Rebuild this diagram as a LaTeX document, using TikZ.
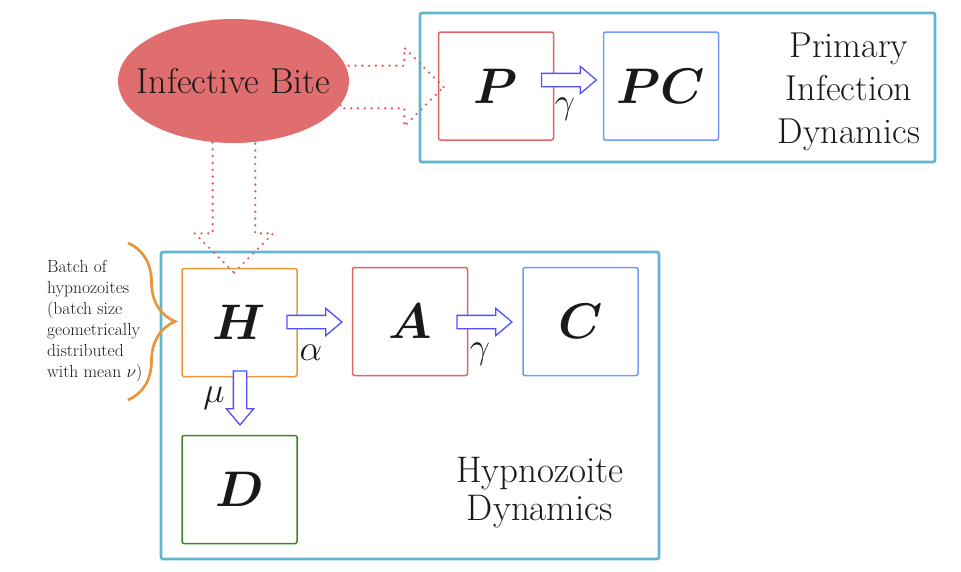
\documentclass[tikz,border=0pt]{standalone}
\usepackage{fix-cm}
\usepackage{amsmath}
\usepackage{amssymb}
\usetikzlibrary{shapes.geometric, shapes.arrows, arrows, decorations.pathreplacing}
\definecolor{bitered}{RGB}{224,110,110}
\definecolor{dotred}{RGB}{228,92,92}
\definecolor{framecyan}{RGB}{96,183,205}
\definecolor{boxred}{RGB}{226,100,100}
\definecolor{boxblue}{RGB}{110,155,250}
\definecolor{boxorange}{RGB}{232,150,60}
\definecolor{boxgreen}{RGB}{60,135,40}
\definecolor{flowblue}{RGB}{80,80,255}
\definecolor{inkgray}{RGB}{25,25,25}
\tikzstyle{frame} = [rectangle, rounded corners=2pt, draw=framecyan, line width=2.7pt, inner sep=0pt]
\tikzstyle{state} = [rectangle, rounded corners=2pt, line width=1.5pt, minimum width=115pt, minimum height=108pt, inner sep=0pt, font=\fontsize{50}{50}\selectfont\boldmath, text=inkgray]
\tikzstyle{flow} = [single arrow, draw=flowblue, fill=white, line width=1.3pt, inner xsep=0pt, inner ysep=6pt, text height=0pt, text depth=0pt, text width=0pt, single arrow head extend=7pt, single arrow tip angle=80, minimum height=55pt]
\tikzstyle{flowdown} = [flow, shape border rotate=270, inner xsep=6pt, inner ysep=0pt]
\tikzstyle{bitearrow} = [single arrow, draw=dotred, line width=2.6pt, dash pattern=on 0pt off 6.8pt, line cap=round, inner xsep=0pt, inner ysep=20pt, text height=0pt, text depth=0pt, text width=0pt, single arrow head extend=18pt]
\tikzstyle{rate} = [font=\fontsize{36}{36}\selectfont, text=inkgray, inner sep=0pt, anchor=base]
\tikzstyle{boxtitle} = [align=center, text=inkgray, font=\fontsize{36}{43}\selectfont, inner sep=0pt]
\tikzstyle{batchbrace} = [decorate, decoration={brace, amplitude=47pt}, draw=boxorange, line width=2.7pt]

\begin{document}
\begin{tikzpicture}[x=1pt, y=-1pt]
\useasboundingbox (0,0) rectangle (961,571);

\node (primbox) [frame, minimum width=515pt, minimum height=149pt] at (677.5,87.5) {};
\node (hypbox) [frame, minimum width=498pt, minimum height=307pt] at (410,405.5) {};

\node (route1) [bitearrow, minimum height=103pt] at (381.5,87) {};
\node (route2) [bitearrow, minimum height=132pt, shape border rotate=270, inner xsep=20pt, inner ysep=0pt] at (234,196) {};
\node (bite) [ellipse, fill=bitered, minimum width=231pt, minimum height=124pt, inner sep=0pt,
  label={[text=inkgray, font=\fontsize{36}{36}\selectfont]center:Infective Bite}] at (233.5,81) {};

\node (P) [state, draw=boxred] at (496,86) {$P$};
\node (PC) [state, draw=boxblue] at (661,86) {$PC$};
\node (f1) [flow] at (565,80) {};
\node (g1) [rate] at (565,113) {$\gamma$};
\node (primtxt) [boxtitle] at (849,92) {Primary\\Infection\\Dynamics};

\node (H) [state, draw=boxorange] at (239.5,322.5) {$H$};
\node (A) [state, draw=boxred] at (410,321.5) {$A$};
\node (C) [state, draw=boxblue] at (580.5,321.5) {$C$};
\node (D) [state, draw=boxgreen] at (239.5,489.5) {$D$};
\node (f2) [flow] at (310.5,322) {};
\node (f3) [flow] at (480.5,322) {};
\node (f4) [flowdown, minimum height=54pt] at (240,394) {};
\node (g2) [rate] at (311,360) {$\alpha$};
\node (g3) [rate] at (480,358) {$\gamma$};
\node (g4) [rate] at (214,402) {$\mu$};
\node (hyptxt) [boxtitle, font=\fontsize{37}{38}\selectfont] at (540,493) {Hypnozoite\\Dynamics};

\node (batch) [align=left, anchor=west, inner sep=0pt, text=inkgray, font=\fontsize{17.5}{21}\selectfont] at (47,321) {Batch of\\hypnozoites\\(batch size\\geometrically\\distributed\\with mean $\nu$)};
\draw [batchbrace] (128,243) -- (128,400);

\end{tikzpicture}
\end{document}
